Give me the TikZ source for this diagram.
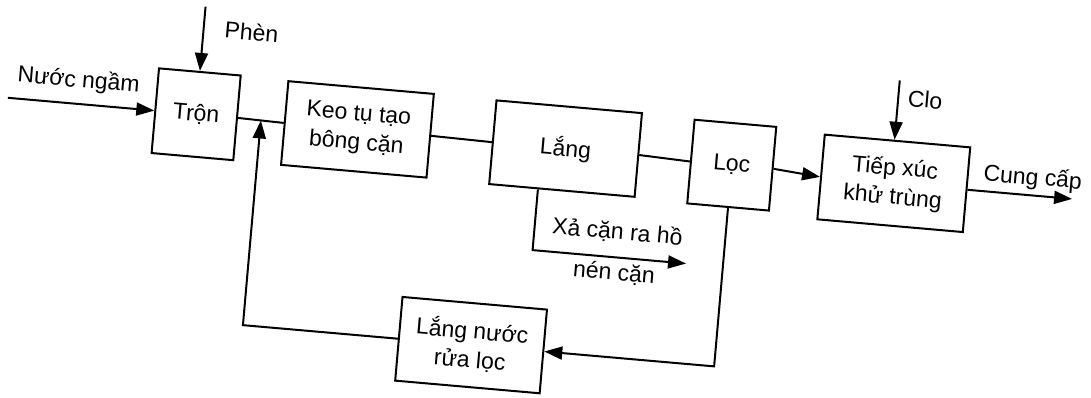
\documentclass[tikz,border=0pt]{standalone}
\usepackage{fontspec}
\setmainfont{Liberation Sans}
\usetikzlibrary{arrows.meta,calc}
\begin{document}
\begin{tikzpicture}[x=1pt,y=-1pt,
  box/.style={draw,line width=2pt,inner sep=0pt,align=center,font=\fontsize{23}{29}\selectfont},
  lbl/.style={inner sep=0pt,font=\fontsize{23}{29}\selectfont},
  conn/.style={line width=2pt},
  arr/.style={line width=2pt,-{Triangle[length=18pt,width=13pt]}}]
\useasboundingbox (0,0) rectangle (1091,397);
\begin{scope}[rotate around={-5:(545,200)},transform shape]
  % boxes
  \node[box,minimum width=82pt,minimum height=85pt] (tron) at (190,145) {Trộn};
  \node[box,minimum width=146pt,minimum height=84pt] (keo) at (352,146) {Keo tụ tạo\\bông cặn};
  \node[box,minimum width=146pt,minimum height=84pt] (lang) at (561,147) {Lắng};
  \node[box,minimum width=82pt,minimum height=84pt] (locc) at (728,149) {Lọc};
  \node[box,minimum width=146pt,minimum height=85pt] (tiep) at (891,153) {Tiếp xúc\\khử trùng};
  \node[box,minimum width=145pt,minimum height=84pt] (lnr) at (484,351) {Lắng nước\\rửa lọc};
  % free ends
  \coordinate (inL) at (1,145);
  \coordinate (phen) at (190,37);
  \coordinate (clo) at (888,50);
  \coordinate (outR) at (1070,153);
  \coordinate (drainTop) at (537,147);
  \coordinate (drainEnd) at (691,251);
  % labels
  \node[lbl] (tNuoc) at (70,122) {Nước ngầm};
  \node[lbl] (tPhen) at (238,58) {Phèn};
  \node[lbl] (tClo) at (915,67) {Clo};
  \node[lbl] (tCung) at (1029,136) {Cung cấp};
  \node[lbl] (tXa) at (620,226) {Xả cặn ra hồ};
  \node[lbl] (tNen) at (620,267) {nén cặn};
  % connectors
  \draw[arr] (inL) -- (tron.west);
  \draw[arr] (phen) -- (tron.north);
  \draw[conn] (tron.east) -- (keo.west);
  \draw[conn] (keo.east) -- (lang.west);
  \draw[conn] (lang.east) -- (locc.west);
  \draw[arr] (locc.east) -- (tiep.west);
  \draw[arr] (clo) -- (clo |- tiep.north);
  \draw[arr] (tiep.east) -- (outR);
  \draw[arr] (drainTop |- lang.south) |- (drainEnd);
  \draw[arr] (locc.south) |- (lnr.east);
  \draw[arr] (lnr.west) -| ($(tron.east)!0.5!(keo.west)$);
\end{scope}
\end{tikzpicture}
\end{document}
